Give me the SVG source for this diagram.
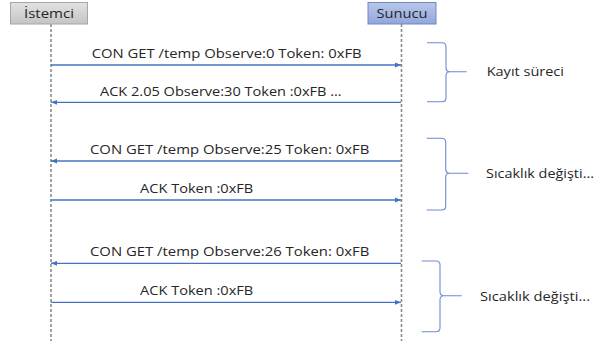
<svg xmlns="http://www.w3.org/2000/svg" width="595" height="341" viewBox="0 0 595 341">
  <defs>
    <linearGradient id="gGray" x1="0" y1="0" x2="0" y2="1">
      <stop offset="0" stop-color="#e2e2e2"/>
      <stop offset="1" stop-color="#c4c4c4"/>
    </linearGradient>
    <linearGradient id="gBlue" x1="0" y1="0" x2="0" y2="1">
      <stop offset="0" stop-color="#b9c7ea"/>
      <stop offset="1" stop-color="#91a6db"/>
    </linearGradient>
    <marker id="arrow" viewBox="0 0 6 6" refX="6" refY="3" markerWidth="6" markerHeight="6" markerUnits="userSpaceOnUse" orient="auto">
      <path d="M0,0.6 L6,3 L0,5.4 Z" fill="#4472c4"/>
    </marker>
    <style>
      text { font-family: "Open Sans", "Liberation Sans", sans-serif; fill: #262626; font-size: 12.5px; }
      .life { stroke: #8c8c8c; stroke-width: 1.6; stroke-dasharray: 3 2; fill: none; }
      .msg { stroke: #4472c4; stroke-width: 1.3; fill: none; marker-end: url(#arrow); }
      .brace { stroke: #6a8cd2; stroke-width: 1.1; fill: none; }
    </style>
  </defs>
  <rect width="595" height="341" fill="#ffffff"/>

  <!-- participants -->
  <g id="istemci">
    <line class="life" x1="51" y1="24" x2="51" y2="341"/>
    <rect x="10.5" y="2.5" width="77" height="21.5" fill="url(#gGray)" stroke="#a6a6a6" stroke-width="1"/>
    <text x="49" y="17.7" text-anchor="middle" textLength="50" lengthAdjust="spacingAndGlyphs">İstemci</text>
  </g>
  <g id="sunucu">
    <line class="life" x1="401.5" y1="24" x2="401.5" y2="341"/>
    <rect x="368" y="2.5" width="68" height="21.5" fill="url(#gBlue)" stroke="#6f87c6" stroke-width="1"/>
    <text x="402" y="17.5" text-anchor="middle" textLength="51" lengthAdjust="spacingAndGlyphs">Sunucu</text>
  </g>

  <!-- messages -->
  <g id="connectors">
    <line class="msg" x1="51" y1="65" x2="401" y2="65"/>
    <line class="msg" x1="401" y1="102.3" x2="51" y2="102.3"/>
    <line class="msg" x1="401" y1="161" x2="51" y2="161"/>
    <line class="msg" x1="51" y1="200" x2="401" y2="200"/>
    <line class="msg" x1="401" y1="263.3" x2="51" y2="263.3"/>
    <line class="msg" x1="51" y1="302.3" x2="401" y2="302.3"/>
  </g>

  <g id="labels">
    <text x="91.7" y="58.3" textLength="270" lengthAdjust="spacingAndGlyphs">CON GET /temp Observe:0 Token: 0xFB</text>
    <text x="100" y="95.6" textLength="241.7" lengthAdjust="spacingAndGlyphs">ACK 2.05 Observe:30 Token :0xFB ...</text>
    <text x="90" y="153.6" textLength="279.3" lengthAdjust="spacingAndGlyphs">CON GET /temp Observe:25 Token: 0xFB</text>
    <text x="140" y="193.2" textLength="113.3" lengthAdjust="spacingAndGlyphs">ACK Token :0xFB</text>
    <text x="90" y="255.8" textLength="279.3" lengthAdjust="spacingAndGlyphs">CON GET /temp Observe:26 Token: 0xFB</text>
    <text x="140" y="295.4" textLength="113.3" lengthAdjust="spacingAndGlyphs">ACK Token :0xFB</text>
  </g>

  <!-- phase brackets -->
  <g id="phase-kayit">
    <path class="brace" d="M427,42.7 H442 Q446,42.7 446,46.7 V67.7 Q446,71.7 450,71.7 H466.7 M450,71.7 Q446,71.7 446,75.7 V97.7 Q446,101.7 442,101.7 H427"/>
    <text x="486.7" y="76.3" textLength="77.3" lengthAdjust="spacingAndGlyphs">Kayıt süreci</text>
  </g>
  <g id="phase-sicaklik-1">
    <path class="brace" d="M426.7,138.3 H441.7 Q445.7,138.3 445.7,142.3 V169.3 Q445.7,173.3 449.7,173.3 H468.3 M449.7,173.3 Q445.7,173.3 445.7,177.3 V206 Q445.7,210 441.7,210 H426.7"/>
    <text x="486" y="178" textLength="108" lengthAdjust="spacingAndGlyphs">Sıcaklık değişti...</text>
  </g>
  <g id="phase-sicaklik-2">
    <path class="brace" d="M421.7,261 H436 Q440,261 440,265 V291.7 Q440,295.7 444,295.7 H461.7 M444,295.7 Q440,295.7 440,299.7 V327.7 Q440,331.7 436,331.7 H421.7"/>
    <text x="480" y="300.7" textLength="110" lengthAdjust="spacingAndGlyphs">Sıcaklık değişti...</text>
  </g>
</svg>
